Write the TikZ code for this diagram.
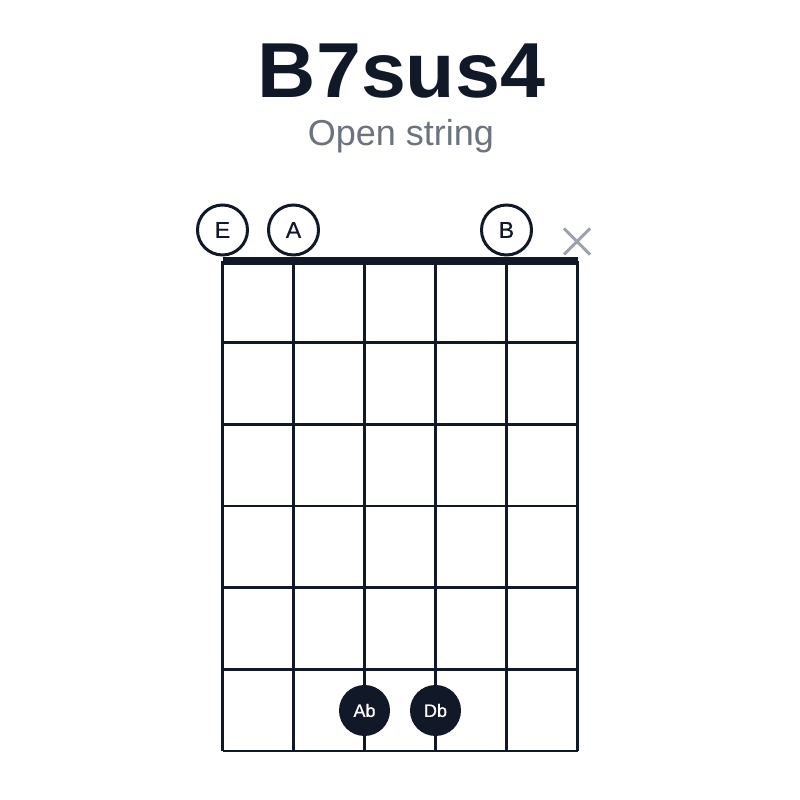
\documentclass[tikz,border=0pt]{standalone}
\usepackage{fontspec}
\setmainfont{Liberation Sans}
\newfontfamily\notefont[FakeBold=0.6]{Liberation Sans}
\definecolor{ink}{HTML}{111827}
\definecolor{subgrey}{HTML}{6B7280}
\definecolor{mutegrey}{HTML}{9CA3AF}
\tikzset{
  gridline/.style={draw=ink, line width=2.6pt},
  nutline/.style={draw=ink, line width=8pt},
  opennote/.style={circle, draw=ink, line width=3pt, fill=white, minimum size=50pt, inner sep=0pt, font=\notefont\fontsize{23}{23}\selectfont, text=ink},
  fretnote/.style={circle, fill=ink, minimum size=51pt, inner sep=0pt, font=\notefont\fontsize{18}{18}\selectfont, text=white},
  mutemark/.style={draw=mutegrey, line width=3pt},
}
\begin{document}
\begin{tikzpicture}[x=1pt,y=1pt]
\useasboundingbox (0,0) rectangle (800,800);
\fill[white] (0,0) rectangle (800,800);
% title
\node[text=ink, font=\fontsize{78}{78}\selectfont\bfseries, anchor=base, xscale=1.035, inner sep=0pt] (title) at (401.5,702) {B7sus4};
\node[text=subgrey, font=\fontsize{36}{36}\selectfont, anchor=base, inner sep=0pt] (sub) at (401,654) {Open string};
% strings
\foreach \i in {0,...,5} {
  \draw[gridline] (222.5+71*\i,539) -- (222.5+71*\i,49);
}
% frets
\foreach \j in {1,...,6} {
  \draw[gridline] (222.5,539-81.67*\j) -- (577.5,539-81.67*\j);
}
% nut
\draw[nutline] (222.5,539) -- (577.5,539);
% open strings
\node[opennote] (nE) at (222.5,570) {E};
\node[opennote] (nA) at (293.5,570) {A};
\node[opennote] (nB) at (506.5,570) {B};
% muted string
\draw[mutemark] (564,571.5) -- (590,545.5);
\draw[mutemark] (564,545.5) -- (590,571.5);
% fretted notes
\node[fretnote] (nAb) at (364.5,89.5) {Ab};
\node[fretnote] (nDb) at (435.5,89.5) {Db};
\end{tikzpicture}
\end{document}
